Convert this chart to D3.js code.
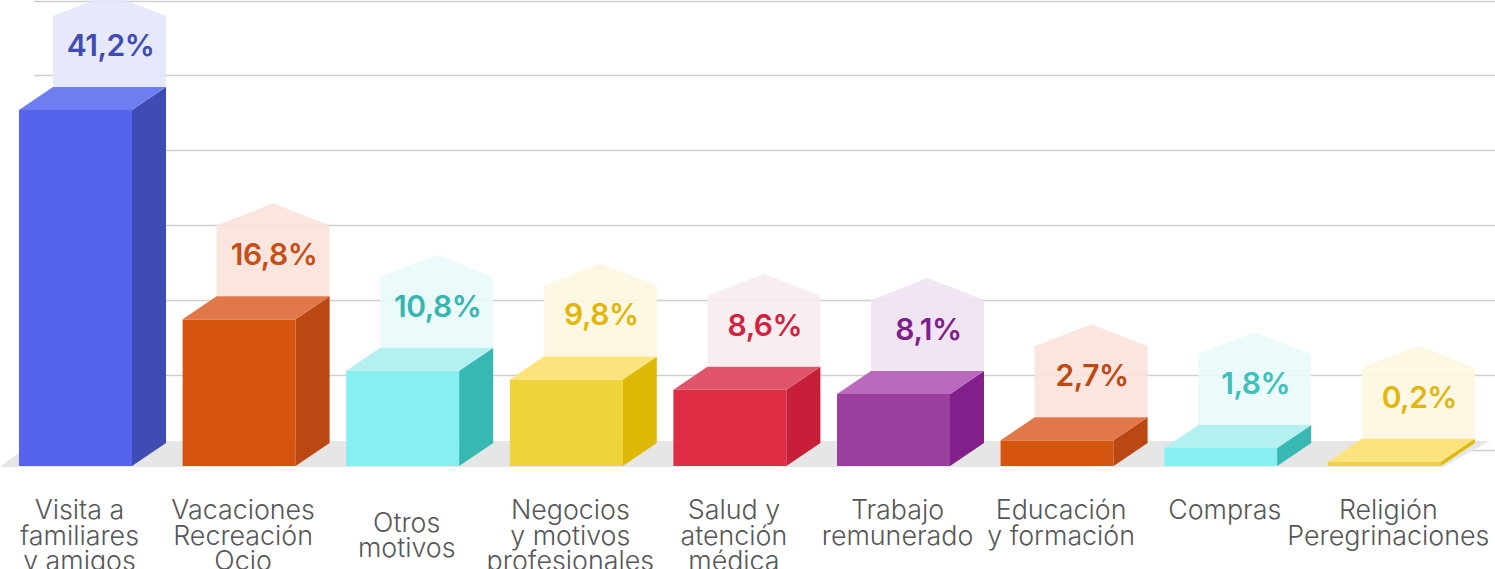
<!DOCTYPE html>
<html>
<head>
<meta charset="utf-8">
<script src="https://cdn.jsdelivr.net/npm/d3@7"></script>
<style>
  html, body { margin: 0; padding: 0; background: #fff; }
  svg { display: block; }
  .cat { font-family: Inter, "Noto Sans", sans-serif; font-weight: 300; fill: #575757; }
  .val { font-family: Inter, "Noto Sans", sans-serif; font-weight: 600; }
</style>
</head>
<body>
<svg id="chart"></svg>
<script>
const categories = [
  "Visita a familiares y amigos", "Vacaciones Recreación Ocio", "Otros motivos",
  "Negocios y motivos profesionales", "Salud y atención médica", "Trabajo remunerado",
  "Educación y formación", "Compras", "Religión Peregrinaciones"
];
const labelLines = [
  ["Visita a", "familiares", "y amigos"],
  ["Vacaciones", "Recreación", "Ocio"],
  ["Otros", "motivos"],
  ["Negocios", "y motivos", "profesionales"],
  ["Salud y", "atención", "médica"],
  ["Trabajo", "remunerado"],
  ["Educación", "y formación"],
  ["Compras"],
  ["Religión", "Peregrinaciones"]
];
const values = [41.2, 16.8, 10.8, 9.8, 8.6, 8.1, 2.7, 1.8, 0.2];

const frontColors = ["#5563ee", "#d5540f", "#86f0f0", "#eed33d", "#de2d44", "#9b3f9f", "#d5540f", "#86f0f0", "#eed33d"];
const sideColors  = ["#3e4cb3", "#bb4713", "#38b8b3", "#e0b806", "#c71f3a", "#831f8a", "#bb4713", "#38b8b3", "#e0b806"];
const topColors   = ["#6e7ef0", "#e0784a", "#b5f0f0", "#fce37e", "#e0556b", "#b96abf", "#e0784a", "#b5f0f0", "#fce37e"];
const tintColors  = ["#e3e5fa", "#f9e3d9", "#e8fafa", "#fdf7e0", "#f7ebed", "#f0e1f1", "#f9e3d9", "#e8fafa", "#fdf7e0"];
const textColors  = ["#3f4cb5", "#c64e17", "#38b5af", "#e0b60a", "#d3223f", "#7e1f8b", "#c04812", "#3dc1ba", "#e2b60c"];

const gridSteps = [0, 1, 2, 3, 4, 5, 6];

const W = 1495, H = 569;
const depthX = 34, depthY = 23;
const baseY = 466;

const svg = d3.select("#chart").attr("width", W).attr("height", H);

const x = d3.scaleBand().domain(categories).range([19, 1440.8]).paddingInner(0.3093).paddingOuter(0);
const y = d3.scaleLinear().domain([0, 41.2]).range([463.5, 110]);
const gy = d3.scaleLinear().domain([0, 6]).range([450, 0.5]);

const es = d3.formatLocale({decimal: ",", thousands: ".", grouping: [3], currency: ["", "€"]});
const fmt = v => es.format(".1f")(v) + "%";

// gridlines
svg.append("g").selectAll("line")
  .data(gridSteps)
  .join("line")
  .attr("x1", 34).attr("x2", W)
  .attr("y1", d => Math.round(gy(d)) + 0.5).attr("y2", d => Math.round(gy(d)) + 0.5)
  .attr("stroke", "#cfcfcf").attr("stroke-width", 1.3);

// floor
svg.append("polygon")
  .attr("points", [[0, 467], [1443, 467], [1490, 441], [34, 441]].join(" "))
  .attr("fill", "#e6e6e6");

const data = categories.map((c, i) => ({c, i, v: values[i], lines: labelLines[i]}));
const bars = svg.append("g").selectAll("g").data(data).join("g");

// label "house" behind each value
bars.append("polygon")
  .attr("points", d => {
    const l = x(d.c) + depthX, r = l + x.bandwidth(), b = y(d.v) - depthY;
    const s = b - 71, p = s - 22;
    return [[l, b], [l, s], [(l + r) / 2, p], [r, s], [r, b]].join(" ");
  })
  .attr("fill", d => tintColors[d.i]).attr("fill-opacity", 0.88);

bars.append("text")
  .attr("class", "val")
  .attr("x", d => x(d.c) + depthX + x.bandwidth() / 2 + 1)
  .attr("y", d => y(d.v) - depthY - 71 + 40)
  .attr("text-anchor", "middle")
  .attr("font-size", 30)
  .attr("letter-spacing", -0.5)
  .attr("fill", d => textColors[d.i])
  .text(d => fmt(d.v));

// front
bars.append("rect")
  .attr("x", d => x(d.c)).attr("y", d => y(d.v))
  .attr("width", x.bandwidth()).attr("height", d => baseY - y(d.v))
  .attr("fill", d => frontColors[d.i]);

// side
bars.append("polygon")
  .attr("points", d => {
    const r = x(d.c) + x.bandwidth(), t = y(d.v);
    return [[r, t], [r + depthX, t - depthY], [r + depthX, baseY - depthY], [r, baseY]].join(" ");
  })
  .attr("fill", d => sideColors[d.i]);

// top
bars.append("polygon")
  .attr("points", d => {
    const l = x(d.c), r = l + x.bandwidth(), t = y(d.v);
    return [[l, t], [r, t], [r + depthX, t - depthY], [l + depthX, t - depthY]].join(" ");
  })
  .attr("fill", d => topColors[d.i]);

// category labels
const lineH = 25.5;
bars.append("text")
  .attr("class", "cat")
  .attr("font-size", 26.8)
  .attr("text-anchor", "middle")
  .attr("transform", d => {
    const shift = d.c === "Otros motivos" ? lineH / 2 : 0;
    return `translate(${x(d.c) + x.bandwidth() / 2 + 4},${519 + shift})`;
  })
  .selectAll("tspan")
  .data(d => d.lines)
  .join("tspan")
  .attr("x", 0)
  .attr("y", (d, i) => i * lineH)
  .text(d => d);
</script>
</body>
</html>
